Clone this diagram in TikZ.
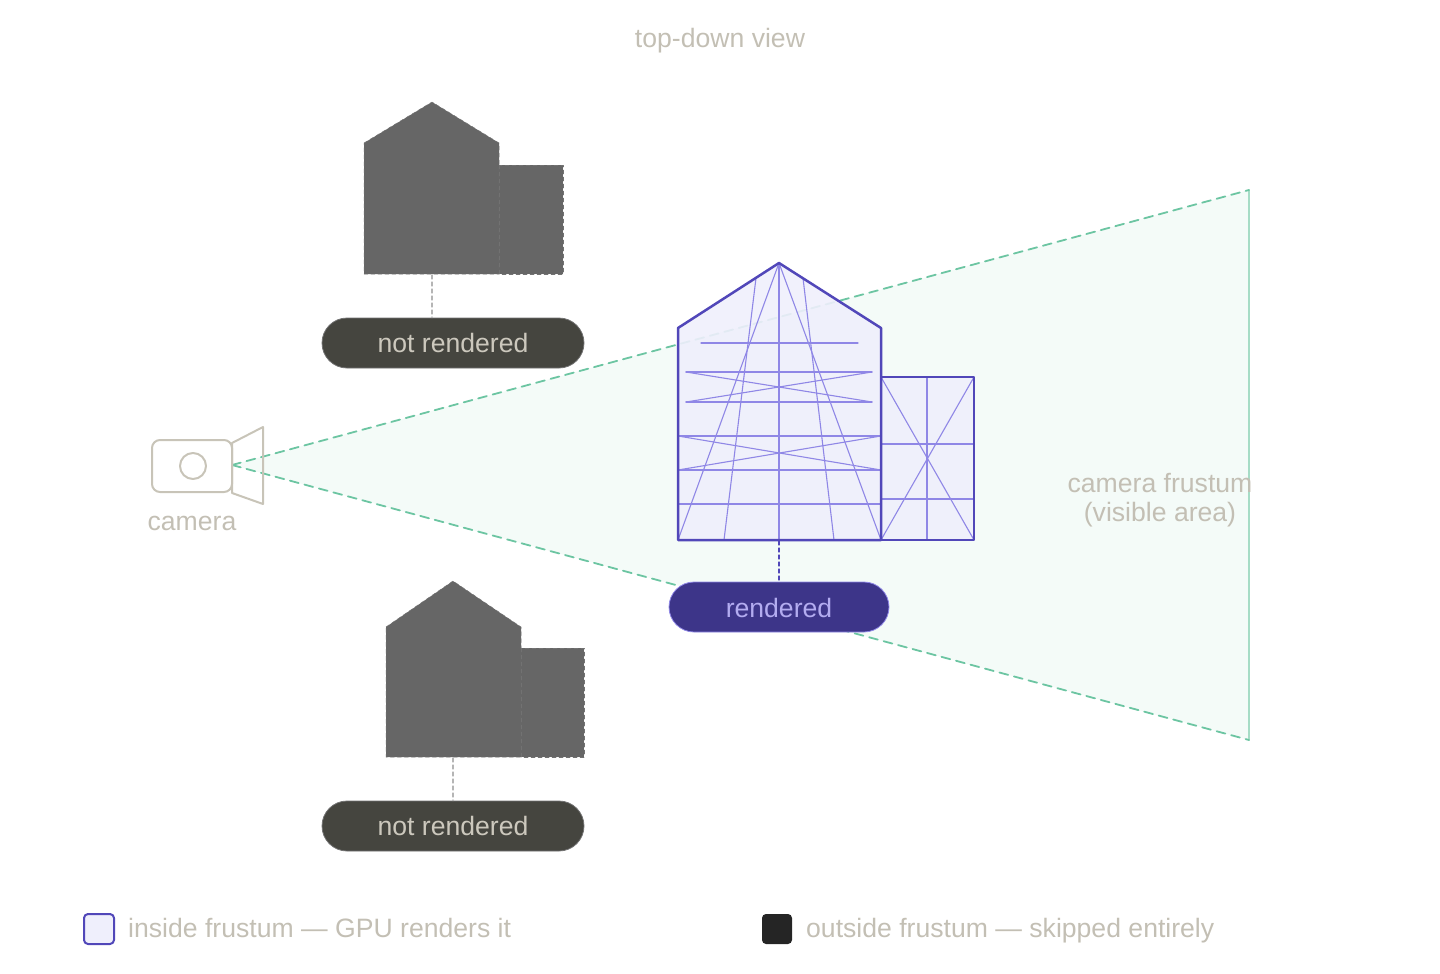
\documentclass[tikz,border=0pt]{standalone}
\usepackage{fontspec}
\setmainfont{Liberation Sans}
\definecolor{labelgray}{HTML}{C3BFB4}
\definecolor{housegray}{HTML}{666666}
\definecolor{housedash}{HTML}{727272}
\definecolor{linkgray}{HTML}{B5B5B5}
\definecolor{pilldark}{HTML}{45453F}
\definecolor{pilldarktext}{HTML}{CCC8BD}
\definecolor{renderline}{HTML}{5147B9}
\definecolor{renderfill}{HTML}{EFEFFC}
\definecolor{wireline}{HTML}{8F87E6}
\definecolor{pillpurple}{HTML}{3D3589}
\definecolor{pillpurpletext}{HTML}{B3ACF0}
\definecolor{frustumfill}{HTML}{F4FBF8}
\definecolor{frustumline}{HTML}{6CC5A2}
\definecolor{frustumedge}{HTML}{A6DCC6}
\definecolor{camgray}{HTML}{C8C4B8}
\definecolor{squaredark}{HTML}{252525}

\begin{document}
\begin{tikzpicture}[x=1pt,y=-1pt,line cap=round,line join=round,
    txt/.style={text=labelgray,font=\fontsize{26.6}{31}\selectfont,inner sep=0pt,anchor=base},
    pill/.style={rounded corners=25pt,minimum height=50pt,inner sep=0pt,font=\fontsize{26.6}{31}\selectfont,text height=19pt,text depth=0pt},
    offpill/.style={pill,fill=pilldark,draw=housedash,line width=0.8pt,text=pilldarktext,minimum width=262pt},
    onpill/.style={pill,fill=pillpurple,draw=wireline,line width=0.8pt,text=pillpurpletext,minimum width=220pt},
    grayhouse/.style={fill=housegray,draw=housedash,line width=0.5pt,dash pattern=on 4pt off 3pt},
    wire/.style={wireline,line width=1.1pt},
    link/.style={line width=1.2pt,dash pattern=on 4pt off 3pt},
    swatch/.style={minimum size=30pt,inner sep=0pt,rounded corners=4pt}]
    \useasboundingbox (0,0) rectangle (1440,974);
    % frustum
    \coordinate (apex) at (232,465);
    \coordinate (ftop) at (1249,190);
    \coordinate (fbot) at (1249,740);
    \fill [frustumfill] (apex) -- (ftop) -- (fbot) -- cycle;
    \draw [frustumedge,line width=1.5pt] (ftop) -- (fbot);
    \draw [frustumline,line width=1.8pt,dash pattern=on 9pt off 6pt] (apex) -- (ftop);
    \draw [frustumline,line width=1.8pt,dash pattern=on 9pt off 6pt] (apex) -- (fbot);
    \node [txt] (flabel) at (1160,492) {camera frustum};
    \node [txt] (flabel2) at (1160,521) {(visible area)};
    % title
    \node [txt] (title) at (720,48) {top-down view};
    % camera
    \draw [camgray,line width=2pt,rounded corners=8pt] (152,440) rectangle (232,492);
    \draw [camgray,line width=2pt] (193,466) circle (13);
    \draw [camgray,line width=2pt] (232,443) -- (263,427) -- (263,504) -- (232,493) -- cycle;
    \node [txt] (camlabel) at (192,530) {camera};
    % upper house, outside
    \draw [grayhouse] (364,143) -- (432,102) -- (499,143) -- (499,274) -- (364,274) -- cycle;
    \draw [grayhouse] (499,165) rectangle (563,274);
    \coordinate (hA) at (432,275);
    \node [offpill] (nrA) at (453,343) {not rendered};
    \draw [link,linkgray] (hA) -- (hA |- nrA.north);
    % lower house, outside
    \draw [grayhouse] (386,627) -- (453,581) -- (521,627) -- (521,757) -- (386,757) -- cycle;
    \draw [grayhouse] (521,648) rectangle (584,757);
    \coordinate (hB) at (453,758);
    \node [offpill] (nrB) at (453,826) {not rendered};
    \draw [link,linkgray] (hB) -- (hB |- nrB.north);
    % house inside the frustum
    \fill [renderfill,fill opacity=0.9] (678,328) -- (779,263) -- (881,328) -- (881,540) -- (678,540) -- cycle;
    \fill [renderfill,fill opacity=0.9] (881,377) rectangle (974,540);
    \draw [wire] (779,263) -- (779,540);
    \draw [wire] (779,263) -- (678,540);
    \draw [wire] (779,263) -- (881,540);
    \draw [wire] (756,278) -- (724,540);
    \draw [wire] (803,278) -- (834,540);
    \draw [wire] (701,343) -- (858,343);
    \draw [wire] (686,372) -- (872,372);
    \draw [wire] (686,402) -- (872,402);
    \draw [wire] (686,372) -- (872,402);
    \draw [wire] (686,402) -- (872,372);
    \draw [wire] (678,436) -- (881,436);
    \draw [wire] (678,470) -- (881,470);
    \draw [wire] (678,436) -- (881,470);
    \draw [wire] (678,470) -- (881,436);
    \draw [wire] (678,504) -- (881,504);
    \draw [wire] (927,377) -- (927,540);
    \draw [wire] (881,444) -- (974,444);
    \draw [wire] (881,499) -- (974,499);
    \draw [wire] (881,377) -- (974,540);
    \draw [wire] (881,540) -- (974,377);
    \draw [renderline,line width=2.5pt] (678,328) -- (779,263) -- (881,328) -- (881,540) -- (678,540) -- cycle;
    \draw [renderline,line width=2.5pt] (881,377) rectangle (974,540);
    \coordinate (hC) at (779,541);
    \node [onpill,text height=21pt] (rC) at (779,607) {rendered};
    \draw [link,renderline] (hC) -- (rC.north);
    % legend
    \node [swatch,fill=renderfill,draw=renderline,line width=2pt] (keyin) at (99,929) {};
    \node [txt,anchor=base west] (keyintext) at (128,937) {inside frustum — GPU renders it};
    \node [swatch,fill=squaredark] (keyout) at (777,929) {};
    \node [txt,anchor=base west] (keyouttext) at (806,937) {outside frustum — skipped entirely};
\end{tikzpicture}
\end{document}
